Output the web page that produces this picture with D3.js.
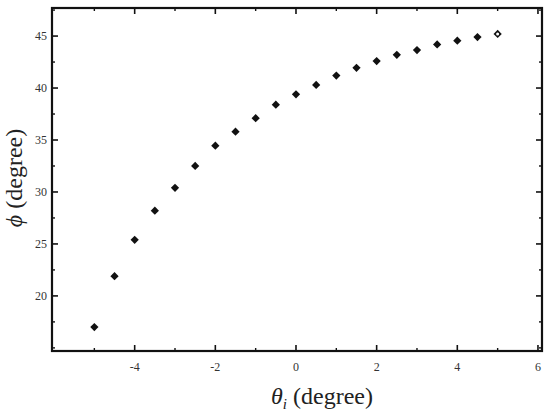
<!DOCTYPE html>
<html><head><meta charset="utf-8"><script src="https://cdn.jsdelivr.net/npm/d3@7"></script></head>
<body style="margin:0">
<svg id="chart" width="555" height="416" style="font-family: 'Liberation Serif'"></svg>
<script>
// incidence angle (degree) and measured phi (degree)
const thetaVals = [-5, -4.5, -4, -3.5, -3, -2.5, -2, -1.5, -1, -0.5, 0, 0.5, 1, 1.5, 2, 2.5, 3, 3.5, 4, 4.5, 5];
const phiVals = [17.0, 21.9, 25.4, 28.2, 30.4, 32.5, 34.45, 35.8, 37.1, 38.4, 39.4, 40.3, 41.2, 41.95, 42.6, 43.2, 43.65, 44.2, 44.55, 44.9, 45.2];
const xTicks = [-4, -2, 0, 2, 4, 6];
const xMinor = [-5, -3, -1, 1, 3, 5];
const yTicks = [20, 25, 30, 35, 40, 45];
const yMinor = [15, 17.5, 22.5, 27.5, 32.5, 37.5, 42.5, 47.5];

const svg = d3.select('#chart');
const L = 52, R = 542, T = 8, B = 351;

const x = d3.scaleLinear().domain([-6.05, 6.1]).range([L, R]);
const y = d3.scaleLinear().domain([14.7, 47.7]).range([B, T]);

// inward ticks on all four sides
const tickGroup = svg.append('g').attr('stroke', '#111');
const addTicks = (vals, len, w) => {
  vals.forEach(v => {
    tickGroup.append('line').attr('x1', x(v)).attr('x2', x(v)).attr('y1', B).attr('y2', B - len).attr('stroke-width', w);
    tickGroup.append('line').attr('x1', x(v)).attr('x2', x(v)).attr('y1', T).attr('y2', T + len).attr('stroke-width', w);
  });
};
addTicks(xTicks, 6, 1.6);
addTicks(xMinor, 3, 1.4);
const addYTicks = (vals, len, w) => {
  vals.forEach(v => {
    tickGroup.append('line').attr('y1', y(v)).attr('y2', y(v)).attr('x1', L).attr('x2', L + len).attr('stroke-width', w);
    tickGroup.append('line').attr('y1', y(v)).attr('y2', y(v)).attr('x1', R).attr('x2', R - len).attr('stroke-width', w);
  });
};
addYTicks(yTicks, 6, 1.6);
addYTicks(yMinor, 3, 1.4);

// frame
svg.append('rect').attr('x', L).attr('y', T).attr('width', R - L).attr('height', B - T)
  .attr('fill', 'none').attr('stroke', '#111').attr('stroke-width', 2.2);

// tick labels
svg.append('g').selectAll('text').data(xTicks).join('text')
  .attr('x', d => x(d)).attr('y', B + 20).attr('text-anchor', 'middle')
  .style('font-family', '"Liberation Serif"').attr('font-size', 12).attr('fill', '#333').text(d => d);
svg.append('g').selectAll('text').data(yTicks).join('text')
  .attr('x', L - 5).attr('y', d => y(d) + 4).attr('text-anchor', 'end')
  .style('font-family', '"Liberation Serif"').attr('font-size', 12).attr('fill', '#333').text(d => d);

// data markers (square diamonds), last one hollow
const sq = d3.symbol().type(d3.symbolSquare).size(34);
svg.append('g').selectAll('path').data(thetaVals).join('path')
  .attr('transform', (d, i) => `translate(${x(d)},${y(phiVals[i])}) rotate(45)`)
  .attr('d', sq)
  .attr('fill', '#111');
svg.append('circle')
  .attr('cx', x(thetaVals[thetaVals.length - 1])).attr('cy', y(phiVals[phiVals.length - 1]))
  .attr('r', 1.5).attr('fill', '#fff');

// axis titles
const xt = svg.append('text').attr('x', 322).attr('y', 404).attr('text-anchor', 'middle')
  .style('font-family', '"Liberation Serif"').attr('font-size', 24).attr('fill', '#222');
xt.append('tspan').attr('font-style', 'italic').text('θ');
xt.append('tspan').attr('font-style', 'italic').attr('font-size', 15).attr('dy', 5).text('i');
xt.append('tspan').attr('dy', -5).text(' (degree)');

const yt = svg.append('text').attr('transform', 'translate(22,178) rotate(-90)').attr('text-anchor', 'middle')
  .style('font-family', '"Liberation Serif"').attr('font-size', 24).attr('fill', '#222');
yt.append('tspan').attr('font-style', 'italic').text('ϕ');
yt.append('tspan').text(' (degree)');
</script>
</body>
</html>
